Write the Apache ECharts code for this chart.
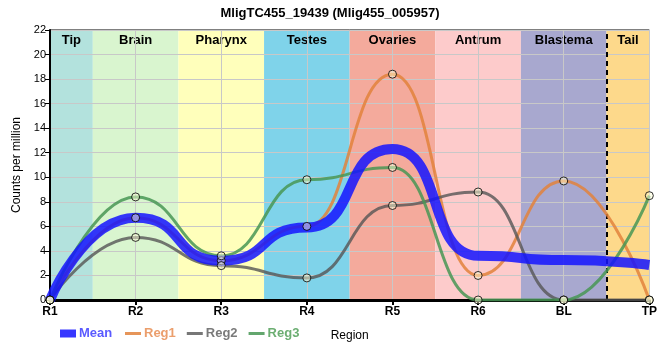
<!DOCTYPE html>
<html><head><meta charset="utf-8">
<script src="https://cdn.jsdelivr.net/npm/echarts@6/dist/echarts.min.js"></script>
<style>html,body{margin:0;padding:0;background:#fff}#c{width:660px;height:360px}</style>
</head><body><div id="c"></div>
<script>
var categories = ['R1','R2','R3','R4','R5','R6','BL','TP'];
var meanValues = [0, 6.7, 3.2, 5.9, 12.3, 3.6, 3.25, 2.85];
var reg1Values = [0, 6.7, 3.2, 6.0, 18.4, 2.0, 9.7, 0];
var reg2Values = [0, 5.1, 2.8, 1.8, 7.7, 8.8, 0, 0];
var reg3Values = [0, 8.4, 3.6, 9.8, 10.8, 0, 0, 8.5];
var bandNames = ['Tip','Brain','Pharynx','Testes','Ovaries','Antrum','Blastema','Tail'];
var bandColors = ['#b3e2dd','#d9f5cf','#ffffbb','#7fd3ea','#f4aa9c','#fdcbcb','#a8a8cf','#fdd98b'];
var yTicks = [0,2,4,6,8,10,12,14,16,18,20,22];

function pts(vals){ return vals.map(function(v,i){ return [i, v]; }); }

var areas = bandNames.map(function(n,i){
  return [{name:n, xAxis: Math.max(0, i-0.5), itemStyle:{color:bandColors[i]}}, {xAxis: Math.min(categories.length-1, i+0.5)}];
});

var chart = echarts.init(document.getElementById('c'));
var font = 'Liberation Sans, Arial, sans-serif';
chart.setOption({
  animation:false,
  textStyle:{fontFamily:font},
  title:{text:'MligTC455_19439 (Mlig455_005957)', left:'center', top:2, textStyle:{fontSize:13, fontWeight:'bold', color:'#000', fontFamily:font}},
  grid:{left:50, right:10, top:30, bottom:60, show:true, borderColor:'#000', borderWidth:1, backgroundColor:'transparent', z:0},
  xAxis:{type:'value', min:0, max:7, interval:1, z:1,
    name:'Region', nameLocation:'middle', nameGap:30, nameTextStyle:{fontSize:12, color:'#000'},
    axisLine:{show:true, onZero:false, lineStyle:{color:'#000', width:3}},
    axisTick:{show:true, length:5, lineStyle:{color:'#000', width:2}},
    axisLabel:{fontSize:12, fontWeight:'bold', color:'#000', margin:6, formatter:function(v){return categories[v]||'';}},
    splitLine:{show:true, lineStyle:{color:'#c8c8c8', width:1}}},
  yAxis:{type:'value', min:yTicks[0], max:yTicks[yTicks.length-1], interval:2, z:1,
    name:'Counts per million', nameLocation:'middle', nameGap:20, nameTextStyle:{fontSize:12, color:'#000'},
    axisLine:{show:true, lineStyle:{color:'#000', width:2}},
    axisTick:{show:true, length:5, lineStyle:{color:'#000'}},
    axisLabel:{fontSize:11, color:'#000', margin:4},
    splitLine:{show:true, lineStyle:{color:'#c8c8c8', width:1}}},
  legend:[
    {data:[{name:'Mean', textStyle:{color:'#5a5aff'}}], left:55, top:322, itemWidth:16, itemHeight:8, icon:'rect', itemGap:10,
     textStyle:{fontSize:13, fontWeight:'bold', padding:[0,0,0,-2]}},
    {data:[{name:'Reg1', textStyle:{color:'#eb9e6c'}},{name:'Reg2', textStyle:{color:'#7a7a7a'}},{name:'Reg3', textStyle:{color:'#6cae72'}}],
     left:120, top:322, itemWidth:16, itemHeight:3, icon:'rect', itemGap:11,
     textStyle:{fontSize:13, fontWeight:'bold', padding:[0,0,0,-2]}}
  ],
  series:[
    {name:'bands', type:'line', data:[], z:0, silent:true,
     markArea:{silent:true, z:0, label:{show:true, position:'insideTop', distance:4, fontSize:13, fontWeight:'bold', color:'#000'}, data:areas},
     markLine:{silent:true, z:3, symbol:'none', label:{show:false}, lineStyle:{color:'#000', width:2, type:[5,4]}, data:[{xAxis:6.5}]}},
    {name:'Reg1', type:'line', data:pts(reg1Values), smooth:0.5, smoothMonotone:'x', z:3,
     lineStyle:{color:'rgba(226,130,60,0.85)', width:3}, itemStyle:{color:'rgba(226,130,60,0.85)'},
     symbol:'none'},
    {name:'Reg2', type:'line', data:pts(reg2Values), smooth:0.5, smoothMonotone:'x', z:3,
     lineStyle:{color:'rgba(85,85,85,0.8)', width:3}, itemStyle:{color:'rgba(85,85,85,0.8)'},
     symbol:'none'},
    {name:'Reg3', type:'line', data:pts(reg3Values), smooth:0.5, smoothMonotone:'x', z:3,
     lineStyle:{color:'rgba(72,150,85,0.85)', width:3}, itemStyle:{color:'rgba(72,150,85,0.85)'},
     symbol:'none'},
    {name:'Mean', type:'line', data:pts(meanValues), smooth:0.6, smoothMonotone:'x', z:4,
     lineStyle:{color:'rgba(20,20,255,0.85)', width:10}, itemStyle:{color:'rgba(20,20,255,0.85)'},
     symbol:'none'},
    {name:'markers', type:'scatter', z:5, silent:true, symbol:'circle', symbolSize:8,
     itemStyle:{color:'rgba(255,255,215,0.6)', borderColor:'#000', borderWidth:1},
     data:[].concat(pts(reg1Values), pts(reg2Values), pts(reg3Values))}
  ]
});
</script></body></html>
